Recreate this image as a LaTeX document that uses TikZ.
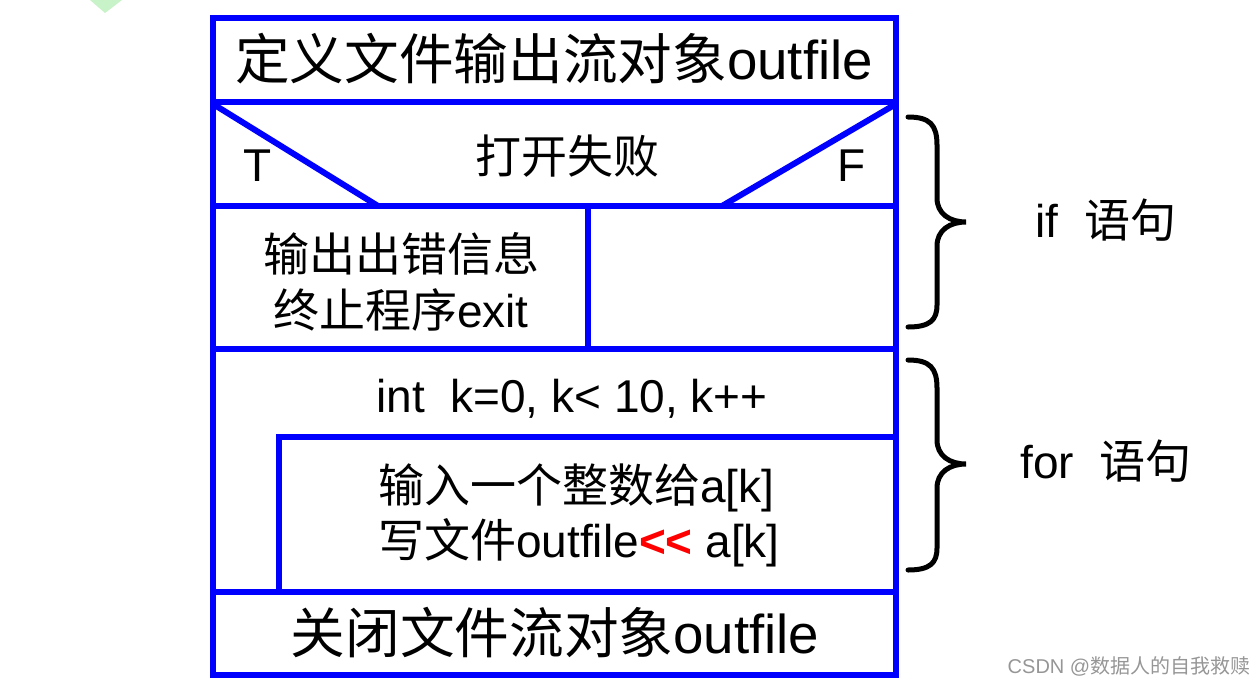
\documentclass[tikz,border=0pt]{standalone}
\usepackage{fontspec}
\setmainfont{Liberation Sans}
\newfontfamily\cjkf{Noto Sans CJK SC}
\newcommand\zht[1]{{\cjkf #1}}
\definecolor{nsblue}{RGB}{0,0,255}
\definecolor{wmgray}{RGB}{150,150,150}
\definecolor{paleg}{RGB}{200,242,200}
\begin{document}
\begin{tikzpicture}[x=0.75pt,y=-0.75pt,
  nsline/.style={draw=nsblue,line width=4.5pt},
  nsthick/.style={draw=nsblue,line width=5.2pt},
  big/.style={font=\fontsize{41}{45}\selectfont,inner sep=0pt},
  mid/.style={font=\fontsize{34.5}{40}\selectfont,inner sep=0pt},
  bracepath/.style={draw=black,line width=3.75pt,line cap=round},
  wm/.style={font=\fontsize{15}{18}\selectfont,text=wmgray,inner sep=0pt}
  ]
\useasboundingbox (0,0) rectangle (1260,686);
% faint green fragment
\fill[paleg] (90,0) -- (122,0) -- (105,13) -- cycle;
% frame coordinates
\coordinate (tl) at (213,18);
\coordinate (br) at (896,675);
\coordinate (l1) at (213,102); \coordinate (r1) at (896,102);
\coordinate (l2) at (213,206); \coordinate (r2) at (896,206);
\coordinate (dl) at (378,206); \coordinate (dr) at (722,206);
\coordinate (dl0) at (213,104); \coordinate (dr0) at (896,104);
\coordinate (vt) at (588,206); \coordinate (vb) at (588,349);
\coordinate (l3) at (213,349); \coordinate (r3) at (896,349);
\coordinate (ib) at (279,592); \coordinate (ic) at (279,437); \coordinate (ir) at (896,437);
\coordinate (l4) at (213,592); \coordinate (r4) at (896,592);
% frame
\draw[nsline] (tl) rectangle (br);
\draw[nsthick] (l1) -- (r1);
\draw[nsline] (l2) -- (r2);
\draw[nsline] (dl0) -- (dl);
\draw[nsline] (dr0) -- (dr);
\draw[nsline] (vt) -- (vb);
\draw[nsline] (l3) -- (r3);
\draw[nsline] (ib) -- (ic) -- (ir);
\draw[nsline] (l4) -- (r4);
% texts
\node[big,anchor=base] (t1) at (554,79) {\zht{定义文件输出流对象}outfile};
\node[mid] (cond) at (567,156) {\zht{打开失败}};
\node[mid,anchor=base] (tt) at (258,181) {T};
\node[mid,anchor=base] (ff) at (852,181) {F};
\node[mid,anchor=base] (e1) at (401,271) {\zht{输出出错信息}};
\node[mid,anchor=base] (e2) at (401,327) {\zht{终止程序}exit};
\node[mid,anchor=base] (loop) at (572,412) {int\ \ k=0, k< 10, k++};
\node[mid,anchor=base west] (b1) at (378,502) {\zht{输入一个整数给}a[k]};
\node[mid,anchor=base west] (b2) at (378,557) {\zht{写文件}outfile{\bfseries\color{red}<{}<} a[k]};
\node[big,anchor=base] (t5) at (555,653) {\zht{关闭文件流对象}outfile};
% braces
\draw[bracepath] (908,117) .. controls (930,117) and (937,125) .. (937,145)
  -- (937,198) .. controls (937,214) and (950,222) .. (966,222)
  .. controls (950,222) and (937,230) .. (937,246)
  -- (937,305) .. controls (937,320) and (930,327) .. (908,327);
\draw[bracepath] (908,360) .. controls (930,360) and (937,368) .. (937,388)
  -- (937,440) .. controls (937,456) and (950,464) .. (966,464)
  .. controls (950,464) and (937,472) .. (937,488)
  -- (937,548) .. controls (937,563) and (930,570) .. (908,570);
\node[mid,anchor=base] (ifl) at (1106,237) {if\ \ \zht{语句}};
\node[mid,anchor=base] (forl) at (1106,478) {for\ \ \zht{语句}};
\node[wm] (mark) at (1129,666) {CSDN @\zht{数据人的自我救赎}};
\end{tikzpicture}
\end{document}
